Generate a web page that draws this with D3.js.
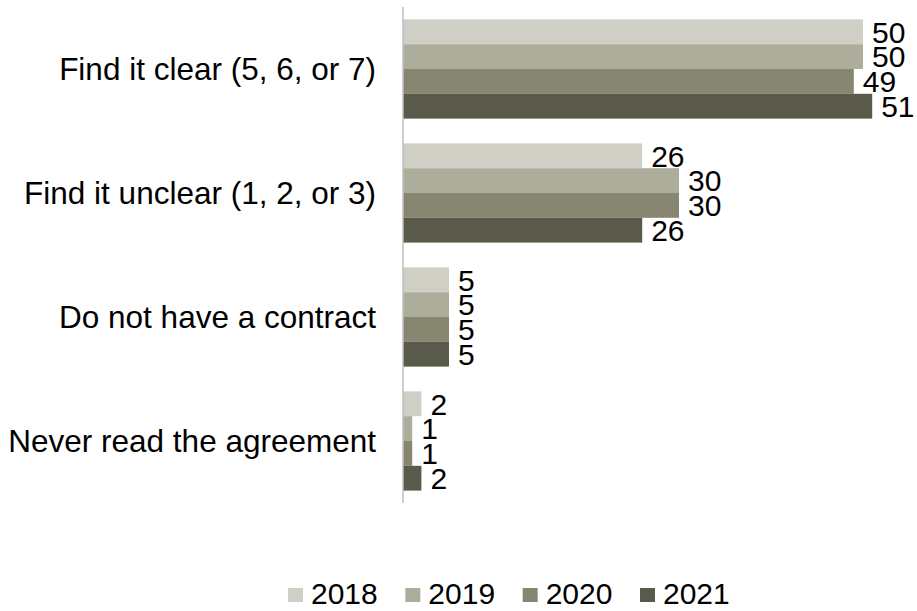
<!DOCTYPE html>
<html>
<head>
<meta charset="utf-8">
<script src="https://cdn.jsdelivr.net/npm/d3@7/dist/d3.min.js"></script>
<style>
  html, body { margin: 0; padding: 0; background: #fff; }
  svg { display: block; font-family: "Liberation Sans", Arial, sans-serif; }
</style>
</head>
<body>
<svg id="chart" width="917" height="611"></svg>
<script>
// Survey responses by year (percent)
const categories = [
  "Find it clear (5, 6, or 7)",
  "Find it unclear (1, 2, or 3)",
  "Do not have a contract",
  "Never read the agreement"
];
const years = ["2018", "2019", "2020", "2021"];
const values2018 = [50, 26, 5, 2];
const values2019 = [50, 30, 5, 1];
const values2020 = [49, 30, 5, 1];
const values2021 = [51, 26, 5, 2];
const seriesValues = [values2018, values2019, values2020, values2021];
const colors = ["#cfcfc5", "#adad9c", "#878670", "#5a5a4b"];

const svg = d3.select("#chart");
const margin = { left: 403, top: 7 };
const plotH = 496;
const labelSize = 31.5;
const valueSize = 30;

const x = d3.scaleLinear().domain([0, 50]).range([margin.left, margin.left + 460]);
const y0 = d3.scaleBand().domain(categories).range([margin.top, margin.top + plotH]).paddingInner(0.2).paddingOuter(0.1);
const y1 = d3.scaleBand().domain(years).range([0, y0.bandwidth()]);

// bars and value labels
categories.forEach((cat, ci) => {
  const g = svg.append("g").attr("transform", `translate(0,${y0(cat)})`);
  years.forEach((yr, si) => {
    const v = seriesValues[si][ci];
    g.append("rect")
      .attr("x", x(0))
      .attr("y", y1(yr))
      .attr("width", x(v) - x(0))
      .attr("height", y1.bandwidth())
      .attr("fill", colors[si]);
    g.append("text")
      .attr("x", x(v) + 9)
      .attr("y", y1(yr) + y1.bandwidth() / 2)
      .attr("dy", "0.36em")
      .attr("font-size", valueSize)
      .attr("fill", "#000")
      .text(v);
  });
});

// category axis
svg.append("line")
  .attr("x1", x(0)).attr("x2", x(0))
  .attr("y1", margin.top).attr("y2", margin.top + plotH)
  .attr("stroke", "#bfbfbf").attr("stroke-width", 1.5);

svg.append("g").selectAll("text")
  .data(categories)
  .join("text")
  .attr("x", 376)
  .attr("y", d => y0(d) + y0.bandwidth() / 2)
  .attr("dy", "0.36em")
  .attr("text-anchor", "end")
  .attr("font-size", labelSize)
  .attr("fill", "#000")
  .text(d => d);

// legend
const legendX = d3.scalePoint().domain(years).range([288, 640]);
const legend = svg.append("g").selectAll("g")
  .data(years)
  .join("g")
  .attr("transform", d => `translate(${legendX(d)},588)`);
legend.append("rect")
  .attr("width", 15).attr("height", 14)
  .attr("fill", (d, i) => colors[i]);
legend.append("text")
  .attr("x", 23)
  .attr("y", 16)
  .attr("font-size", valueSize)
  .attr("fill", "#000")
  .text(d => d);
</script>
</body>
</html>
